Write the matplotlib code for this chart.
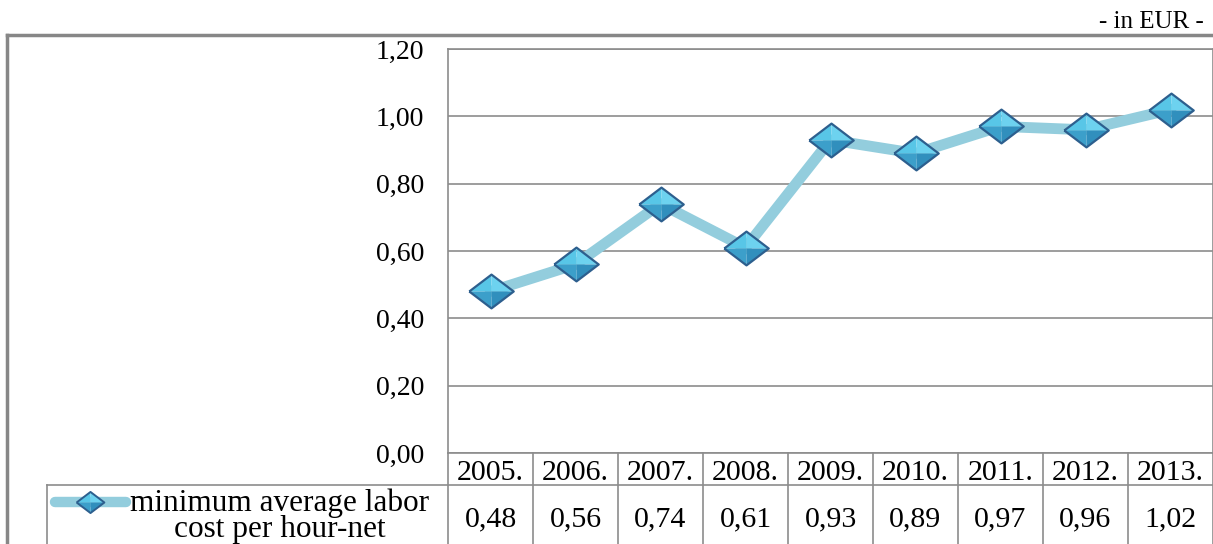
import numpy as np
import matplotlib
matplotlib.use("Agg")
import matplotlib.pyplot as plt
from matplotlib.path import Path
from matplotlib.lines import Line2D
import matplotlib.transforms as mtransforms

# data
years = ["2005.", "2006.", "2007.", "2008.", "2009.", "2010.", "2011.", "2012.", "2013."]
labor_cost = [0.48, 0.56, 0.74, 0.61, 0.93, 0.89, 0.97, 0.96, 1.02]
yticks = [0.0, 0.2, 0.4, 0.6, 0.8, 1.0, 1.2]
series_name = "minimum average labor\ncost per hour-net"
unit_note = "- in EUR -"

plt.rcParams['font.family'] = ['Liberation Serif', 'DejaVu Serif']

W, H = 1213, 544
fig = plt.figure(figsize=(W / 100, H / 100), dpi=100)

def fx(px):
    return px / W

def fy(py):
    # pixel rows counted from the top
    return 1 - py / H

ax = fig.add_axes([fx(448), fy(453), fx(1213 - 448), (453 - 49) / H])

grid_col = "#8c8c8c"
line_col = "#93cddd"
edge_col = "#2d5f8e"

x = np.arange(len(years)) + 0.5
ax.plot(x, labor_cost, color=line_col, lw=7.8, solid_joinstyle="miter", zorder=2)

# bevelled diamond markers built from four facets
k = 0.76
facets = [
    ([(-1, 0), (0, k), (0, 0), (-1, 0)], "#58c6e7"),
    ([(0, k), (1, 0), (0, 0), (0, k)], "#6dd2ef"),
    ([(-1, 0), (0, 0), (0, -k), (-1, 0)], "#3c9fca"),
    ([(0, 0), (1, 0), (0, -k), (0, 0)], "#318fbd"),
]
outline = Path([(-1, 0), (0, k), (1, 0), (0, -k), (-1, 0)])

for verts, col in facets:
    ax.plot(x, labor_cost, ls="none", marker=Path(verts), ms=32,
            mfc=col, mec="none", zorder=3)
ax.plot(x, labor_cost, ls="none", marker=outline, ms=32, mfc="none",
        mec=edge_col, mew=1.6, zorder=4)

ax.set_xlim(0, len(years))
ax.set_ylim(0, 1.2)
ax.set_yticks(yticks)
ax.set_yticklabels([f"{v:.2f}".replace(".", ",") for v in yticks], fontsize=20)
ax.set_xticks([])
ax.tick_params(axis="y", length=0, pad=17)
for lbl in ax.get_yticklabels():
    lbl.set_verticalalignment("center_baseline")
ax.grid(axis="y", color=grid_col, lw=1.2)
ax.set_axisbelow(True)
for side in ["top", "left", "right", "bottom"]:
    ax.spines[side].set_color(grid_col)
    ax.spines[side].set_linewidth(1.2)

# data table under the plot
tr = mtransforms.blended_transform_factory(ax.transData, fig.transFigure)
row_top, row_mid, row_bot = 453, 485, 560
for i in range(len(years) + 1):
    fig.add_artist(Line2D([i, i], [fy(row_top), fy(row_bot)], transform=tr,
                          color=grid_col, lw=1.2))
fig.add_artist(Line2D([fx(47), 1.0], [fy(row_mid), fy(row_mid)],
                      transform=fig.transFigure, color=grid_col, lw=1.2))
fig.add_artist(Line2D([fx(47), fx(47)], [fy(row_mid), fy(row_bot)],
                      transform=fig.transFigure, color=grid_col, lw=1.2))
for xi, yr, v in zip(x, years, labor_cost):
    fig.text(xi, fy(470), yr, transform=tr, ha="center", va="center_baseline",
             fontsize=21.5)
    fig.text(xi, fy(516), f"{v:.2f}".replace(".", ","), transform=tr,
             ha="center", va="center_baseline", fontsize=21.5)

# legend key inside the table
fig.add_artist(Line2D([fx(55), fx(126)], [fy(502), fy(502)], transform=fig.transFigure,
                      color=line_col, lw=7.5, solid_capstyle="round"))
for verts, col in facets:
    fig.add_artist(Line2D([fx(90)], [fy(502)], transform=fig.transFigure, ls="none",
                          marker=Path(verts), ms=20, mfc=col, mec="none"))
fig.add_artist(Line2D([fx(90)], [fy(502)], transform=fig.transFigure, ls="none",
                      marker=outline, ms=20, mfc="none", mec=edge_col, mew=1.4))
fig.text(fx(280), fy(516), series_name, ha="center", va="center",
         fontsize=22.5, linespacing=0.85)

# outer frame and unit note
fig.add_artist(Line2D([fx(7), 1.0], [fy(35), fy(35)], transform=fig.transFigure,
                      color="#878787", lw=2.5))
fig.add_artist(Line2D([fx(7), fx(7)], [fy(35), 0.0], transform=fig.transFigure,
                      color="#878787", lw=2.5))
fig.text(fx(1204), fy(22), unit_note, ha="right", va="center", fontsize=18)

fig.savefig("out.png", dpi=100)
